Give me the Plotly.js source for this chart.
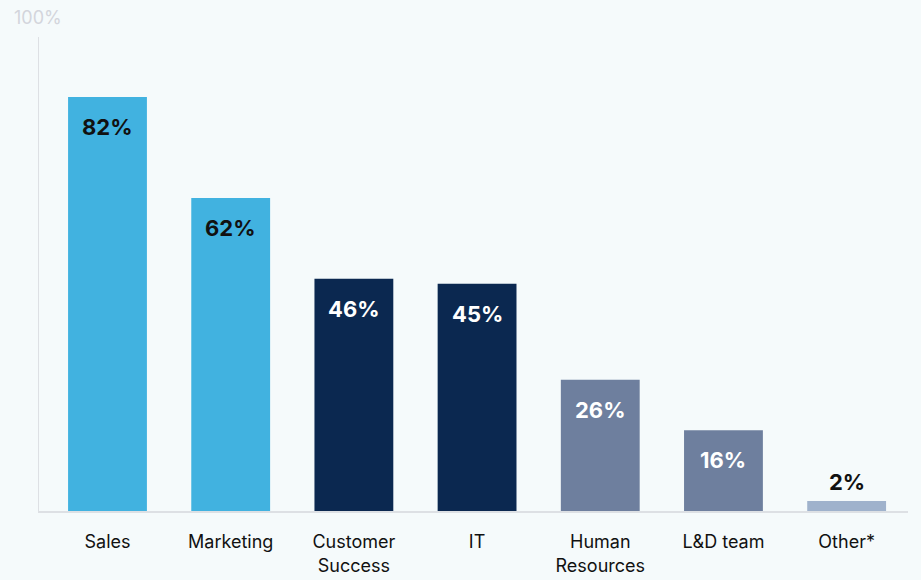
<!DOCTYPE html>
<html><head><meta charset="utf-8">
<script src="https://cdn.plot.ly/plotly-3.0.1.min.js"></script>
<style>html,body{margin:0;padding:0;background:#f5fafb;}</style>
</head><body>
<div id="chart" style="width:921px;height:580px;"></div>
<script>
const categories = ["Sales", "Marketing", "Customer<br>Success", "IT", "Human<br>Resources", "L&D team", "Other*"];
const values = [82, 62, 46, 45, 26, 16, 2];
const labels = ["82%", "62%", "46%", "45%", "26%", "16%", "2%"];
const barColors = ["#41b2e0", "#41b2e0", "#0b2850", "#0b2850", "#6e7f9e", "#6e7f9e", "#9fb2cc"];
const labelColors = ["#111111", "#111111", "#ffffff", "#ffffff", "#ffffff", "#ffffff", "#111111"];
const labelInside = [true, true, true, true, true, true, false];

const font = "Inter, 'Open Sans', sans-serif";

const annotations = categories.map((c, i) => ({
  x: c, y: values[i], xref: 'x', yref: 'y',
  text: labels[i], showarrow: false,
  yshift: labelInside[i] ? -30 : 19,
  font: {family: font, size: 22, color: labelColors[i], weight: 700}
}));
annotations.push({
  xref: 'paper', yref: 'paper', x: -0.031, y: 1.0, xanchor: 'left', yanchor: 'middle',
  yshift: 20, text: "100%", showarrow: false,
  font: {family: font, size: 18, color: "#d3d5dc"}
});

Plotly.newPlot('chart', [{
  type: 'bar', x: categories, y: values,
  marker: {color: barColors, line: {width: 0}},
  width: 0.64, hoverinfo: 'skip'
}], {
  width: 921, height: 580,
  margin: {l: 39, r: 13, t: 37, b: 69},
  paper_bgcolor: "#f5fafb", plot_bgcolor: "#f5fafb",
  showlegend: false,
  xaxis: {
    type: 'category', range: [-0.556, 6.498],
    showgrid: false, zeroline: false, showline: true, linecolor: "#dde0e4", linewidth: 1.5,
    ticks: '', ticklabelstandoff: 14,
    tickfont: {family: font, size: 18, color: "#111111"}
  },
  yaxis: {
    range: [0, 93.9], showgrid: false, zeroline: false,
    showline: true, linecolor: "#dde0e4", linewidth: 1.5,
    showticklabels: false, ticks: ''
  },
  annotations: annotations
}, {displayModeBar: false, staticPlot: true});
</script>
</body></html>
